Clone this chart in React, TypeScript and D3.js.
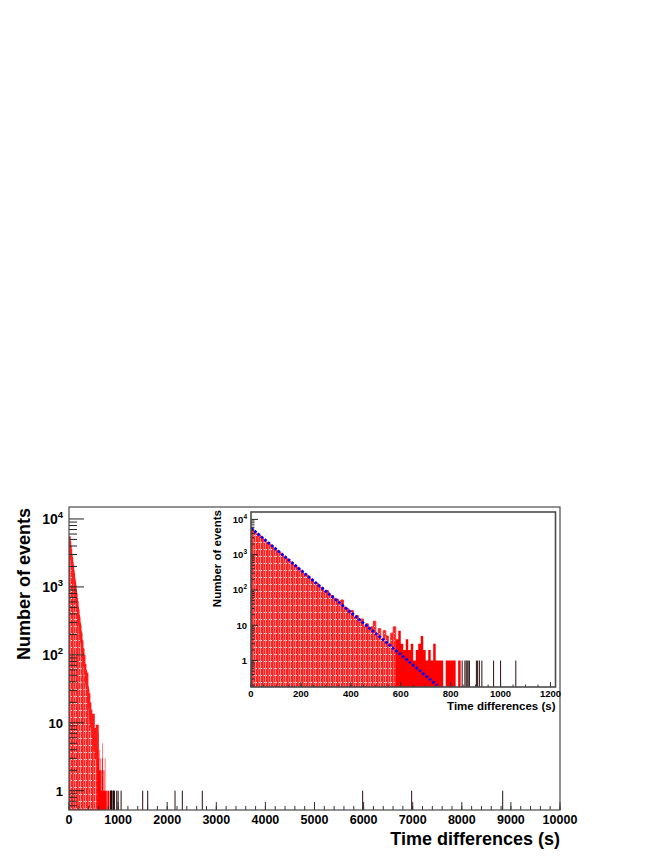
import React from "react";
import * as d3 from "d3";

// ---------- data ----------
const BIN_WIDTH = 10; // seconds per bin
const binCounts = [
  5350, 4520, 3870, 3450, 2930, 2610, 2240, 1990, 1700, 1520,
  1290, 1150, 1010, 850, 770, 650, 590, 490, 445, 372,
  340, 285, 262, 214, 198, 160, 152, 121, 118, 92,
  96, 71, 70, 58, 55, 38, 52, 33, 30, 22,
  26, 17, 19, 12, 15, 9, 11, 7, 9, 13,
  5, 8, 4, 7, 5, 3, 6, 9, 4, 7,
  3, 2, 4, 2, 3, 1, 2, 3, 5, 2,
  1, 2, 1, 3, 1, 1, 1, 0, 1, 1,
  1, 1, 0, 1,
];
const PATTERN_LIMIT = 580;
const singleEvents = [
  846, 857, 862, 866, 870, 875, 903, 908, 915, 925, 972, 1000, 1061,
  1501, 1603, 2159, 2308, 2715, 5981, 6979, 8833,
];
const fitEnds = [
  { t: 0, n: 5700 },
  { t: 745, n: 0.2 },
];
const mainXTicks = [0, 1000, 2000, 3000, 4000, 5000, 6000, 7000, 8000, 9000, 10000];
const insetXTicks = [0, 200, 400, 600, 800, 1000, 1200];
const logLabelValues = [1, 10, 100, 1000, 10000];
const X_TITLE = "Time differences (s)";
const Y_TITLE = "Number of events";

type Bin = { t: number; n: number };
const bins: Bin[] = binCounts.map((n, i) => ({ t: i * BIN_WIDTH, n }));
const denseBins = bins.filter((b) => b.t < PATTERN_LIMIT);
const tailBins = bins.filter((b) => b.t >= PATTERN_LIMIT);

const FONT = "'Liberation Sans', Arial, Helvetica, sans-serif";

function stepArea(data: Bin[], x: any, y: any): string {
  const bottom = y.range()[0];
  const last = data[data.length - 1];
  const pts = [...data, { t: last.t + BIN_WIDTH, n: last.n }];
  return (
    d3
      .area<Bin>()
      .x((d) => x(d.t))
      .y0(bottom)
      .y1((d) => (d.n > 0 ? y(d.n) : bottom))
      .curve(d3.curveStepAfter)(pts) || ""
  );
}

function logTicks(domain: number[]) {
  const out: { v: number; major: boolean }[] = [];
  for (let e = -2; e <= 5; e++) {
    for (let m = 1; m <= 9; m++) {
      const v = m * Math.pow(10, e);
      if (v >= domain[0] && v <= domain[1]) out.push({ v, major: m === 1 });
    }
  }
  return out;
}

type PanelCfg = {
  id: string;
  x: any;
  y: any;
  xTicks: number[];
  xMinorStep: number;
  xMajorLen: number;
  xMinorLen: number;
  yMajorLen: number;
  yMinorLen: number;
  xLabelSize: number;
  xLabelBase: number;
  yLabelSize: number;
  yPowSize: number;
  ySupSize: number;
  yLabelRight: number;
  yLabelShift: number;
  titleSize: number;
  xTitleBase: number;
  yTitleBase: number;
  yTitleEnd: number;
  frameWidth: number;
  edgeWidth: number;
  showFit: boolean;
};

function Panel({ cfg }: { cfg: PanelCfg }) {
  const { x, y } = cfg;
  const [x0, x1] = x.range();
  const [yb, yt] = y.range();
  const xMax = x.domain()[1];
  const minorX = d3.range(0, xMax + 0.001, cfg.xMinorStep);
  const yt_ = logTicks(y.domain());
  const events = singleEvents.filter((t) => t <= xMax);
  const fitLine = d3
    .line<{ t: number; n: number }>()
    .x((d) => x(d.t))
    .y((d) => y(d.n));
  return (
    <g>
      <defs>
        <clipPath id={`clip-${cfg.id}`}>
          <rect x={x0} y={yt} width={x1 - x0} height={yb - yt} />
        </clipPath>
      </defs>
      <g clipPath={`url(#clip-${cfg.id})`}>
        <path d={stepArea(denseBins, x, y)} fill="url(#redHatch)" stroke="#ff1a1a" strokeWidth={cfg.edgeWidth} />
        <path d={stepArea(tailBins, x, y)} fill="#ff0000" stroke="none" />
        {events.map((t, i) => (
          <line key={i} x1={x(t)} x2={x(t)} y1={yb} y2={y(1)} stroke="#2b0d0d" strokeWidth={1} />
        ))}
        {cfg.showFit && (
          <path
            d={fitLine(fitEnds) || ""}
            fill="none"
            stroke="#0000ff"
            strokeWidth={2.8}
            strokeDasharray="2.6 1.8"
          />
        )}
      </g>
      {/* x ticks */}
      {minorX.map((v, i) => (
        <line key={"mx" + i} x1={x(v)} x2={x(v)} y1={yb} y2={yb - cfg.xMinorLen} stroke="#333" strokeWidth={1} />
      ))}
      {cfg.xTicks.map((v, i) => (
        <line key={"Mx" + i} x1={x(v)} x2={x(v)} y1={yb} y2={yb - cfg.xMajorLen} stroke="#333" strokeWidth={1} />
      ))}
      {cfg.xTicks.map((v, i) => (
        <text
          key={"lx" + i}
          x={x(v)}
          y={cfg.xLabelBase}
          textAnchor="middle"
          fontFamily={FONT}
          fontWeight="bold"
          fontSize={cfg.xLabelSize}
        >
          {v}
        </text>
      ))}
      {/* y ticks */}
      {yt_.map((d, i) => (
        <line
          key={"y" + i}
          x1={x0}
          x2={x0 + (d.major ? cfg.yMajorLen : cfg.yMinorLen)}
          y1={y(d.v)}
          y2={y(d.v)}
          stroke="#222"
          strokeWidth={1}
        />
      ))}
      {logLabelValues.map((v, i) => {
        const e = Math.round(Math.log10(v));
        const yy = y(v) + cfg.yLabelShift;
        if (e <= 1)
          return (
            <text
              key={"ly" + i}
              x={cfg.yLabelRight}
              y={yy}
              textAnchor="end"
              fontFamily={FONT}
              fontWeight="bold"
              fontSize={cfg.yLabelSize}
            >
              {String(v)}
            </text>
          );
        return (
          <text
            key={"ly" + i}
            x={cfg.yLabelRight}
            y={yy}
            textAnchor="end"
            fontFamily={FONT}
            fontWeight="bold"
            fontSize={cfg.yPowSize}
          >
            10
            <tspan fontSize={cfg.ySupSize} dy={-cfg.yPowSize * 0.42}>
              {String(e)}
            </tspan>
          </text>
        );
      })}
      {/* frame */}
      <rect x={x0} y={yt} width={x1 - x0} height={yb - yt} fill="none" stroke="#4a4a4a" strokeWidth={cfg.frameWidth} />
      {/* titles */}
      <text
        x={x1}
        y={cfg.xTitleBase}
        textAnchor="end"
        fontFamily={FONT}
        fontWeight="bold"
        fontSize={cfg.titleSize}
      >
        {X_TITLE}
      </text>
      <text
        transform={`translate(${cfg.yTitleBase},${cfg.yTitleEnd}) rotate(-90)`}
        textAnchor="end"
        fontFamily={FONT}
        fontWeight="bold"
        fontSize={cfg.titleSize}
      >
        {Y_TITLE}
      </text>
    </g>
  );
}

export default function App() {
  const xMain = d3.scaleLinear().domain([0, 10000]).range([69, 560]);
  const yMain = d3.scaleLog().domain([0.52, 15000]).range([810, 507]);
  const xIn = d3.scaleLinear().domain([0, 1220]).range([251, 555.5]);
  const yIn = d3.scaleLog().domain([0.178, 16200]).range([687, 512]);

  const mainCfg: PanelCfg = {
    id: "main",
    x: xMain,
    y: yMain,
    xTicks: mainXTicks,
    xMinorStep: 200,
    xMajorLen: 8,
    xMinorLen: 4,
    yMajorLen: 15,
    yMinorLen: 8,
    xLabelSize: 12.5,
    xLabelBase: 823.5,
    yLabelSize: 13,
    yPowSize: 14,
    ySupSize: 9.5,
    yLabelRight: 63,
    yLabelShift: 5,
    titleSize: 18,
    xTitleBase: 845,
    yTitleBase: 30,
    yTitleEnd: 508,
    frameWidth: 1.2,
    edgeWidth: 2.5,
    showFit: false,
  };
  const insetCfg: PanelCfg = {
    id: "inset",
    x: xIn,
    y: yIn,
    xTicks: insetXTicks,
    xMinorStep: 50,
    xMajorLen: 5,
    xMinorLen: 2.5,
    yMajorLen: 7,
    yMinorLen: 3.5,
    xLabelSize: 9.5,
    xLabelBase: 697,
    yLabelSize: 9.5,
    yPowSize: 9.5,
    ySupSize: 6.5,
    yLabelRight: 247,
    yLabelShift: 3.5,
    titleSize: 11.5,
    xTitleBase: 710,
    yTitleBase: 221,
    yTitleEnd: 510,
    frameWidth: 1.6,
    edgeWidth: 1,
    showFit: true,
  };

  return (
    <svg
      width={664}
      height={860}
      viewBox="0 0 664 860"
      style={{ position: "absolute", left: 0, top: 0, background: "#fff" }}
    >
      <defs>
        <pattern id="redHatch" patternUnits="userSpaceOnUse" width={5} height={7}>
          <rect width={5} height={7} fill="#ff2020" />
          <rect x={0} width={1} height={7} fill="#ff8c8c" />
          <rect x={3} width={1} height={7} fill="#ff5a5a" />
          <rect x={1} y={3} width={1} height={1} fill="#ffffff" />
          <rect x={4} y={3} width={1} height={1} fill="#ffd0d0" />
        </pattern>
      </defs>
      <rect x={0} y={0} width={664} height={860} fill="#fff" />
      <Panel cfg={mainCfg} />
      <Panel cfg={insetCfg} />
    </svg>
  );
}
